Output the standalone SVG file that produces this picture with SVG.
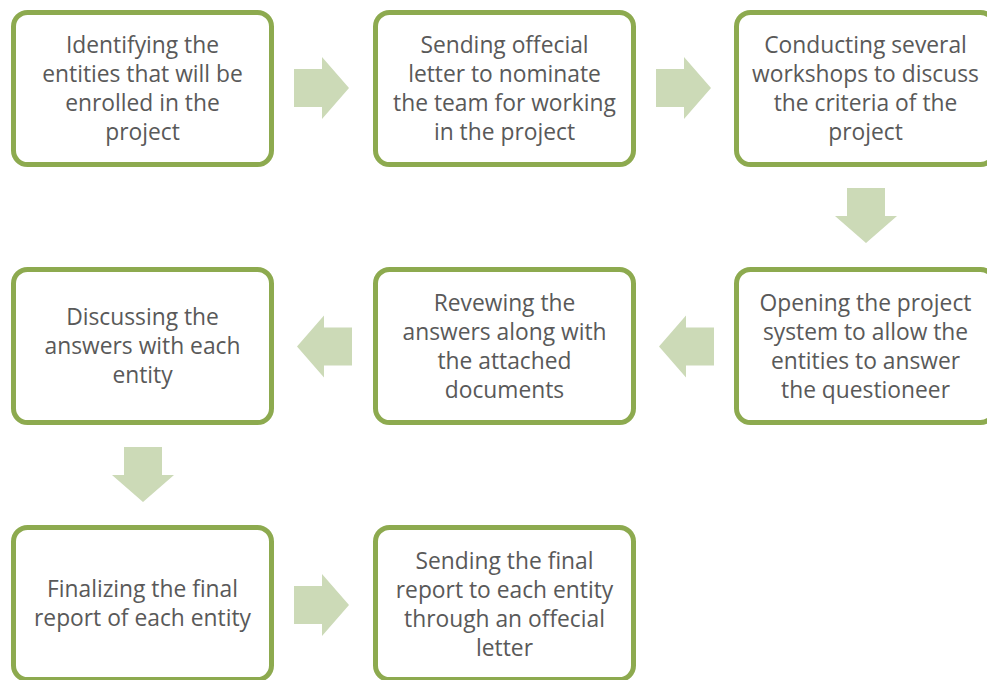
<svg xmlns="http://www.w3.org/2000/svg" xmlns:xlink="http://www.w3.org/1999/xlink" width="987" height="680" viewBox="0 0 987 680">
<style>
.box{fill:#ffffff;stroke:#8DAA4F;stroke-width:5}
.lbl{font-family:"Open Sans","Liberation Sans",sans-serif;font-size:22.8px;fill:#595959;text-anchor:middle}
.arr{fill:#CCDAB7}
</style>
<defs>
<path id="arrow" d="M0,-19 H28 V-31 L55,0 L28,31 V19 H0 Z"/>
</defs>
<rect width="987" height="680" fill="#ffffff"/>
<g id="connectors" class="arr">
<use xlink:href="#arrow" href="#arrow" transform="translate(294,88)"/>
<use xlink:href="#arrow" href="#arrow" transform="translate(656,88)"/>
<use xlink:href="#arrow" href="#arrow" transform="translate(866,188) rotate(90)"/>
<use xlink:href="#arrow" href="#arrow" transform="translate(714,346.5) rotate(180)"/>
<use xlink:href="#arrow" href="#arrow" transform="translate(352,346.5) rotate(180)"/>
<use xlink:href="#arrow" href="#arrow" transform="translate(143,447) rotate(90)"/>
<use xlink:href="#arrow" href="#arrow" transform="translate(294,605)"/>
</g>
<g id="node1">
<rect class="box" x="13.5" y="12.5" width="258" height="152" rx="14"/>
<text class="lbl"><tspan x="142.5" y="52.5">Identifying the</tspan><tspan x="142.5" y="81.5">entities that will be</tspan><tspan x="142.5" y="110.5">enrolled in the</tspan><tspan x="142.5" y="139.5">project</tspan></text>
</g>
<g id="node2">
<rect class="box" x="375.5" y="12.5" width="258" height="152" rx="14"/>
<text class="lbl"><tspan x="504.5" y="52.5">Sending offecial</tspan><tspan x="504.5" y="81.5">letter to nominate</tspan><tspan x="504.5" y="110.5">the team for working</tspan><tspan x="504.5" y="139.5">in the project</tspan></text>
</g>
<g id="node3">
<rect class="box" x="736.5" y="12.5" width="258" height="152" rx="14"/>
<text class="lbl"><tspan x="865.5" y="52.5">Conducting several</tspan><tspan x="865.5" y="81.5">workshops to discuss</tspan><tspan x="865.5" y="110.5">the criteria of the</tspan><tspan x="865.5" y="139.5">project</tspan></text>
</g>
<g id="node4">
<rect class="box" x="736.5" y="269.5" width="258" height="153" rx="14"/>
<text class="lbl"><tspan x="865.5" y="310.5">Opening the project</tspan><tspan x="865.5" y="339.5">system to allow the</tspan><tspan x="865.5" y="368.5">entities to answer</tspan><tspan x="865.5" y="397.5">the questioneer</tspan></text>
</g>
<g id="node5">
<rect class="box" x="375.5" y="269.5" width="258" height="153" rx="14"/>
<text class="lbl"><tspan x="504.5" y="310.5">Revewing the</tspan><tspan x="504.5" y="339.5">answers along with</tspan><tspan x="504.5" y="368.5">the attached</tspan><tspan x="504.5" y="397.5">documents</tspan></text>
</g>
<g id="node6">
<rect class="box" x="13.5" y="269.5" width="258" height="153" rx="14"/>
<text class="lbl"><tspan x="142.5" y="325">Discussing the</tspan><tspan x="142.5" y="354">answers with each</tspan><tspan x="142.5" y="383">entity</tspan></text>
</g>
<g id="node7">
<rect class="box" x="13.5" y="527.5" width="258" height="152" rx="14"/>
<text class="lbl"><tspan x="142.5" y="597">Finalizing the final</tspan><tspan x="142.5" y="626">report of each entity</tspan></text>
</g>
<g id="node8">
<rect class="box" x="375.5" y="527.5" width="258" height="152" rx="14"/>
<text class="lbl"><tspan x="504.5" y="569">Sending the final</tspan><tspan x="504.5" y="598">report to each entity</tspan><tspan x="504.5" y="627">through an offecial</tspan><tspan x="504.5" y="656">letter</tspan></text>
</g>
</svg>
